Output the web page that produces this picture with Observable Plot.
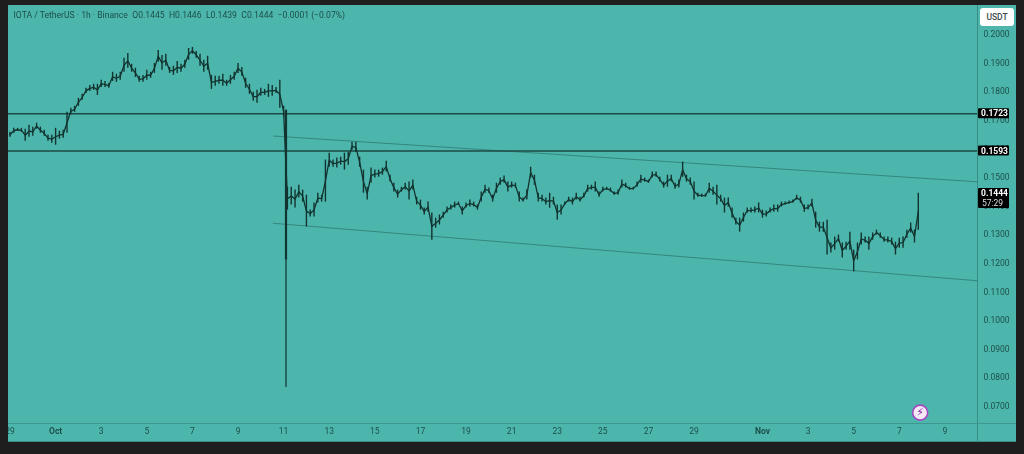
<!DOCTYPE html>
<html><head><meta charset="utf-8">
<script src="https://cdn.jsdelivr.net/npm/d3@7"></script>
<script src="https://cdn.jsdelivr.net/npm/@observablehq/plot@0.6"></script>
<style>
html,body{margin:0;padding:0;background:#1e1e1e;width:1024px;height:454px;overflow:hidden}
#panel{position:absolute;left:8px;top:5px;width:1008px;height:436px;background:#4db6ac;box-shadow:0 1px 0 #3a8d85}
#vline{position:absolute;left:977px;top:5px;width:1px;height:436px;background:#3a8d85}
#hline{position:absolute;left:8px;top:423px;width:1008px;height:1px;background:#3f978e}
#chart{position:absolute;left:0;top:0;filter:blur(.45px)}
#edge{position:absolute;left:0;top:0;width:8px;height:454px;background:#1e1e1e}
#unit{position:absolute;left:980px;top:8px;width:34px;height:18px;border-radius:3px;background:#fff;color:#3c4a4a;font:500 8.5px Roboto,sans-serif;line-height:18px;text-align:center}
</style></head><body>
<div id="panel"></div><div id="vline"></div><div id="hline"></div>
<div id="chart"></div><div id="edge"></div><div id="unit">USDT</div>
<script>
const startTime = Date.UTC(2025, 8, 29);
const stepHours = 4;
const high = [
.1658,.1672,.1672,.1672,.1669,.1683,.1676,.1690,.1676,.1665,
.1648,.1648,.1672,.1662,.1665,.1728,.1742,.1749,.1777,.1791,
.1812,.1822,.1826,.1826,.1840,.1836,.1829,.1868,.1861,.1868,
.1917,.1934,.1896,.1882,.1854,.1857,.1875,.1868,.1899,.1944,
.1927,.1931,.1885,.1889,.1906,.1896,.1910,.1951,.1955,.1941,
.1931,.1910,.1924,.1857,.1854,.1854,.1861,.1840,.1857,.1868,
.1899,.1885,.1847,.1826,.1798,.1805,.1812,.1808,.1826,.1822,
.1815,.1840,.1749,.1466,.1466,.1456,.1473,.1456,.1438,.1386,
.1411,.1445,.1438,.1561,.1585,.1561,.1568,.1571,.1585,.1588,
.1623,.1623,.1571,.1526,.1466,.1533,.1526,.1526,.1533,.1557,
.1508,.1480,.1456,.1466,.1480,.1484,.1491,.1431,.1421,.1393,
.1414,.1376,.1358,.1369,.1379,.1397,.1404,.1414,.1414,.1397,
.1411,.1421,.1414,.1404,.1449,.1473,.1463,.1438,.1480,.1498,
.1505,.1484,.1484,.1480,.1449,.1428,.1456,.1536,.1508,.1445,
.1438,.1428,.1445,.1431,.1404,.1404,.1414,.1431,.1428,.1445,
.1431,.1445,.1473,.1473,.1484,.1449,.1466,.1466,.1463,.1449,
.1456,.1491,.1480,.1466,.1466,.1484,.1508,.1498,.1491,.1519,
.1519,.1501,.1484,.1508,.1508,.1480,.1491,.1554,.1508,.1498,
.1484,.1445,.1442,.1442,.1480,.1466,.1473,.1438,.1428,.1428,
.1393,.1358,.1358,.1376,.1393,.1393,.1397,.1411,.1386,.1383,
.1393,.1404,.1404,.1414,.1414,.1418,.1421,.1438,.1431,.1404,
.1404,.1424,.1379,.1344,.1344,.1351,.1271,.1292,.1299,.1271,
.1274,.1309,.1246,.1271,.1306,.1292,.1292,.1306,.1316,.1306,
.1292,.1292,.1288,.1274,.1288,.1292,.1316,.1341,.1316,.1445];
const low = [
.1641,.1655,.1662,.1658,.1627,.1641,.1644,.1669,.1655,.1644,
.1627,.1620,.1613,.1634,.1637,.1655,.1721,.1728,.1749,.1770,
.1794,.1801,.1805,.1787,.1815,.1815,.1812,.1836,.1833,.1840,
.1868,.1882,.1868,.1850,.1833,.1833,.1840,.1847,.1864,.1903,
.1875,.1889,.1864,.1857,.1864,.1868,.1882,.1910,.1931,.1917,
.1889,.1868,.1875,.1808,.1819,.1826,.1819,.1819,.1826,.1840,
.1864,.1854,.1812,.1791,.1767,.1760,.1784,.1787,.1780,.1784,
.1794,.1742,.1711,.1386,.1404,.1393,.1428,.1414,.1327,.1362,
.1362,.1411,.1414,.1414,.1536,.1536,.1533,.1543,.1526,.1543,
.1595,.1588,.1536,.1445,.1421,.1480,.1498,.1501,.1508,.1519,
.1484,.1449,.1428,.1449,.1456,.1421,.1456,.1404,.1386,.1369,
.1379,.1281,.1323,.1334,.1358,.1376,.1386,.1393,.1404,.1369,
.1393,.1397,.1397,.1386,.1414,.1445,.1445,.1414,.1445,.1473,
.1480,.1449,.1463,.1463,.1414,.1414,.1421,.1498,.1473,.1414,
.1414,.1404,.1393,.1404,.1351,.1369,.1404,.1414,.1404,.1421,
.1414,.1428,.1449,.1456,.1449,.1431,.1449,.1456,.1449,.1438,
.1438,.1463,.1463,.1456,.1456,.1466,.1480,.1484,.1480,.1498,
.1501,.1484,.1463,.1466,.1484,.1459,.1463,.1501,.1484,.1473,
.1421,.1431,.1431,.1431,.1445,.1438,.1404,.1414,.1376,.1397,
.1358,.1334,.1309,.1344,.1376,.1376,.1376,.1376,.1358,.1362,
.1376,.1379,.1379,.1397,.1404,.1407,.1411,.1421,.1411,.1379,
.1386,.1397,.1323,.1309,.1309,.1229,.1236,.1246,.1274,.1219,
.1246,.1246,.1170,.1212,.1264,.1271,.1246,.1281,.1299,.1288,
.1274,.1271,.1264,.1229,.1253,.1253,.1288,.1306,.1271,.1316];
const wickTime = [Date.UTC(2025, 9, 11, 2, 30)];
const wickHigh = [0.1735];
const wickBodyLow = [0.1212];
const wickLow = [0.0766];
const levels = [0.1723, 0.1593];
const levelLabels = ["0.1723", "0.1593"];
const lastPrice = [0.1444];
const lastLabel = ["0.1444"];
const countdown = ["57:29"];
const upperTrendTimes = [Date.UTC(2025, 9, 10, 13, 20), Date.UTC(2025, 10, 10, 10, 20)];
const upperTrendPrices = [0.1645, 0.1485];
const lowerTrendTimes = [Date.UTC(2025, 9, 10, 13, 0), Date.UTC(2025, 10, 10, 10, 20)];
const lowerTrendPrices = [0.1340, 0.1139];
const priceTicks = [0.07,0.08,0.09,0.10,0.11,0.12,0.13,0.14,0.15,0.16,0.17,0.18,0.19,0.20];
const dayTickDates = ["2025-09-29","2025-10-03","2025-10-05","2025-10-07","2025-10-09","2025-10-11","2025-10-13","2025-10-15","2025-10-17","2025-10-19","2025-10-21","2025-10-23","2025-10-25","2025-10-27","2025-10-29","2025-11-03","2025-11-05","2025-11-07","2025-11-09"];
const dayTickLabels = ["29","3","5","7","9","11","13","15","17","19","21","23","25","27","29","3","5","7","9"];
const monthTickDates = ["2025-10-01","2025-11-01"];
const monthTickLabels = ["Oct","Nov"];
const headerText = "IOTA / TetherUS \u00B7 1h \u00B7 Binance\u2002O0.1445\u2002H0.1446\u2002L0.1439\u2002C0.1444\u2002\u22120.0001 (\u22120.07%)";
const markerTime = [Date.UTC(2025, 10, 7, 22)];
const markerPrice = [0.0678];

const candles = high.map((h, i) => ({t: new Date(startTime + i * stepHours * 3600e3), high: h, low: low[i]}));
const INK = "#12332f", AXIS = "#1c4f4a";
const xDomain = [new Date(Date.UTC(2025, 8, 28, 22, 25)), new Date(Date.UTC(2025, 10, 10, 10, 20))];
const xEnd = xDomain[1];
const asRows = (xs, ys) => xs.map((x, i) => ({x: new Date(x), y: ys[i]}));
const dayRows = dayTickDates.map((d, i) => ({x: new Date(d + "T00:00Z"), label: dayTickLabels[i]}));
const monthRows = monthTickDates.map((d, i) => ({x: new Date(d + "T00:00Z"), label: monthTickLabels[i]}));
const levelRows = levels.map((y, i) => ({y, label: levelLabels[i]}));
const font = "Roboto, sans-serif";

const plot = Plot.plot({
  width: 1024, height: 454,
  marginLeft: 8, marginRight: 47, marginTop: 5, marginBottom: 31,
  style: {background: "transparent", fontFamily: font},
  x: {type: "utc", domain: xDomain, axis: null},
  y: {type: "linear", domain: [0.0640, 0.21014], axis: null},
  marks: [
    Plot.axisY({anchor: "right", ticks: priceTicks, tickSize: 0, tickPadding: 6, label: null, fontSize: 8.5, color: AXIS, tickFormat: d => d.toFixed(4)}),
    Plot.text(dayRows, {x: "x", text: "label", frameAnchor: "bottom", dy: 10, fontSize: 8.5, fill: AXIS}),
    Plot.text(monthRows, {x: "x", text: "label", frameAnchor: "bottom", dy: 10, fontSize: 8.5, fontWeight: 700, fill: AXIS}),
    Plot.line(asRows(upperTrendTimes, upperTrendPrices), {x: "x", y: "y", stroke: "#2f7a71", strokeWidth: 0.8}),
    Plot.line(asRows(lowerTrendTimes, lowerTrendPrices), {x: "x", y: "y", stroke: "#2f7a71", strokeWidth: 0.8}),
    Plot.ruleY(levelRows, {y: "y", stroke: "#1b4a45", strokeWidth: 1.5}),
    Plot.line(candles, {x: "t", y: d => (d.high + d.low) / 2, stroke: INK, strokeWidth: 1.3, curve: "linear"}),
    Plot.ruleX(candles, {x: "t", y1: "low", y2: "high", stroke: INK, strokeWidth: 1.4}),
    Plot.ruleX(wickTime, {x: d => new Date(d), y1: wickLow, y2: wickHigh, stroke: INK, strokeWidth: 1.2}),
    Plot.ruleX(wickTime, {x: d => new Date(d), y1: wickBodyLow, y2: wickHigh, stroke: INK, strokeWidth: 2.2}),
    Plot.rect(levelRows, {x1: () => xEnd, x2: () => xEnd, y1: "y", y2: "y", insetLeft: 1, insetRight: -32, insetTop: -5, insetBottom: -5, fill: "#000", rx: 1}),
    Plot.text(levelRows, {x: () => xEnd, y: "y", text: "label", dx: 17, fontSize: 8.5, fontWeight: 700, fill: "#fff"}),
    Plot.rect(lastPrice, {x1: () => xEnd, x2: () => xEnd, y1: d => d, y2: d => d, insetLeft: 1, insetRight: -32, insetTop: -5, insetBottom: -15, fill: "#000", rx: 1}),
    Plot.text(lastPrice, {x: () => xEnd, y: d => d, text: lastLabel, dx: 17, fontSize: 8.5, fontWeight: 700, fill: "#fff"}),
    Plot.text(lastPrice, {x: () => xEnd, y: d => d, text: countdown, dx: 15, dy: 10, fontSize: 8.5, fill: "#d8dede"}),
    Plot.dot(markerTime, {x: d => new Date(d), y: markerPrice, r: 7.5, fill: "#f4eaf7", stroke: "#a24bc0", strokeWidth: 1.6}),
    Plot.text(markerTime, {x: d => new Date(d), y: markerPrice, text: () => "\u26A1", fontSize: 11, fontFamily: "DejaVu Sans", fill: "#8e24aa"}),
    Plot.text([headerText], {frameAnchor: "top-left", dx: 5, dy: 6, fontSize: 8.6, fill: AXIS, lineAnchor: "top"})
  ]
});
document.getElementById("chart").append(plot);
</script>
</body></html>
